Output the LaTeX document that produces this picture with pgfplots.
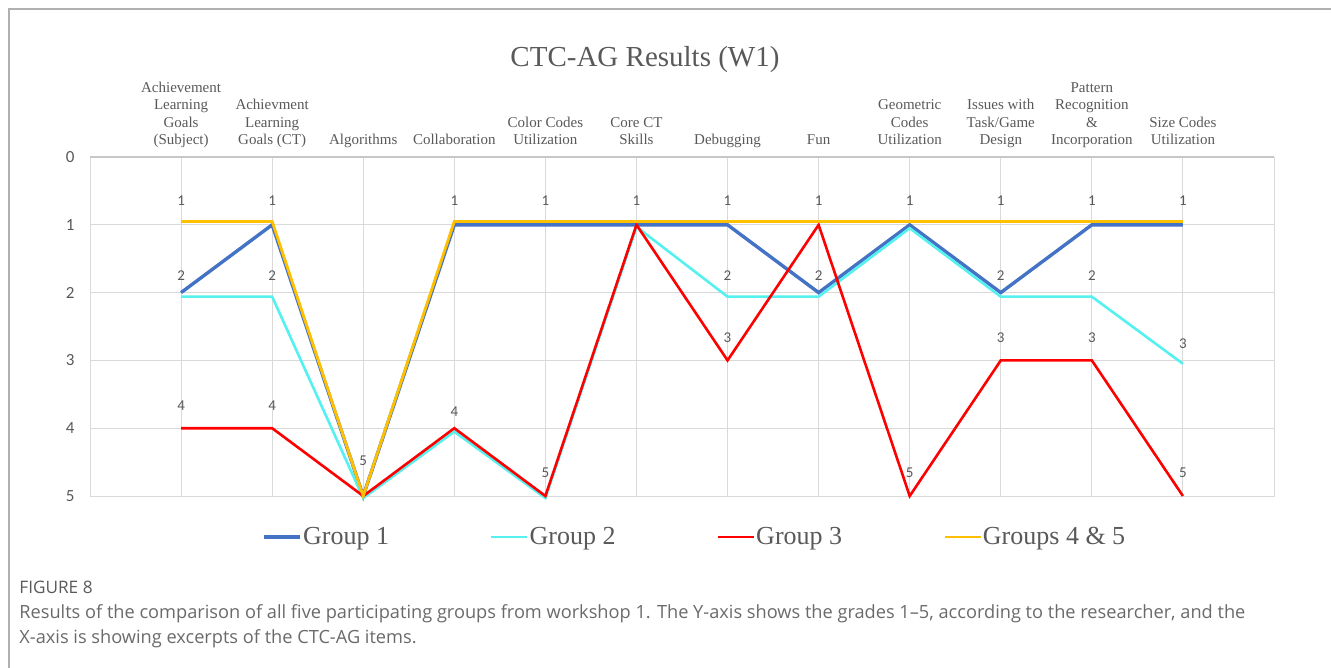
\documentclass[border=0pt]{standalone}
\usepackage{pgfplots}
\pgfplotsset{compat=1.18}
\usepackage{pgfplotstable}
\usepackage{fontspec}
\setmainfont{Liberation Serif}
\newfontfamily\calibri{Carlito}
\newfontfamily\capfont{Open Sans}
\definecolor{gA}{HTML}{4472C4}
\definecolor{gB}{HTML}{55F0F0}
\definecolor{gC}{HTML}{FF0000}
\definecolor{gD}{HTML}{FFC000}
\definecolor{txt}{HTML}{595959}
\definecolor{gridc}{HTML}{D9D9D9}
\definecolor{framec}{HTML}{B0B0B0}
\definecolor{capc}{HTML}{6A6A6A}

\pgfplotstableread{
x g1 g2 g3 g4
0 2 2.06 4 0.95
1 1 2.06 4 0.95
2 5 5.03 5 5
3 1 4.05 4 0.95
4 1 5.03 5 0.95
5 1 1.03 1 0.95
6 1 2.06 3 0.95
7 2 2.06 1 0.95
8 1 1.05 5 0.95
9 2 2.06 3 0.95
10 1 2.06 3 0.95
11 1 3.05 5 0.95
}\datatab

\pgfplotstableread{
x y lab
0 0.65 1
1 0.65 1
3 0.65 1
4 0.65 1
5 0.65 1
6 0.65 1
7 0.65 1
8 0.65 1
9 0.65 1
10 0.65 1
11 0.65 1
0 1.755 2
1 1.755 2
6 1.755 2
7 1.755 2
9 1.755 2
10 1.755 2
0 3.67 4
1 3.67 4
3 3.76 4
2 4.48 5
4 4.66 5
8 4.66 5
11 4.66 5
6 2.665 3
9 2.665 3
10 2.665 3
11 2.76 3
}\labtab

\begin{document}
\begin{tikzpicture}
\path[use as bounding box] (0,0) rectangle (665.5pt,-334pt);
\draw[framec, line width=1pt] (4.5pt,-334pt) -- (4.5pt,-4.5pt) -- (665.5pt,-4.5pt);
\node[font=\fontsize{14.5}{16}\selectfont, text=txt] at (322.5pt,-30pt) {CTC-AG Results (W1)};
\begin{axis}[
  scale only axis,
  width=592pt, height=169.5pt,
  at={(45pt,-248pt)}, anchor=south west,
  xmin=-1, xmax=12, ymin=0, ymax=5,
  y dir=reverse,
  xtick={0,...,11},
  ytick={0,...,5},
  xticklabel pos=right,
  xticklabels={
    {Achievement\\Learning\\Goals\\(Subject)},
    {Achievment\\Learning\\Goals (CT)},
    {Algorithms},
    {Collaboration},
    {Color Codes\\Utilization},
    {Core CT\\Skills},
    {Debugging},
    {Fun},
    {Geometric\\Codes\\Utilization},
    {Issues with\\Task/Game\\Design},
    {Pattern\\Recognition\\\&\\Incorporation},
    {Size Codes\\Utilization}},
  xticklabel style={anchor=south, align=center, inner sep=0pt, text depth=0pt,
    font=\fontsize{7.5}{8.7}\selectfont, text=txt, yshift=6pt},
  yticklabel style={anchor=east, inner sep=0pt, xshift=-7.5pt,
    font=\calibri\fontsize{8.5}{10}\selectfont, text=txt},
  /pgf/number format/assume math mode=true,
  major tick length=0pt,
  grid=major,
  grid style={gridc, line width=0.5pt},
  axis line style={gridc, line width=0.5pt},
  extra y ticks={0},
  extra y tick labels={},
  extra y tick style={grid style={draw=gridc!80!gray, line width=1.3pt}},
  legend columns=4,
  legend style={draw=none, fill=none, at={(0.1405,-0.121)}, anchor=west,
    font=\fontsize{13}{15}\selectfont, text=txt,
    nodes={inner xsep=0.5pt},
    /tikz/every even column/.append style={column sep=50pt}},
  legend cell align=left,
  legend image code/.code={\draw[#1] (0pt,0pt) -- (18pt,0pt);},
  clip=false,
]
\addplot[gA, line width=1.7pt] table[x=x, y=g1] {\datatab};
\addlegendentry{Group 1}
\addplot[gB, line width=1.3pt] table[x=x, y=g2] {\datatab};
\addlegendentry{Group 2}
\addplot[gC, line width=1.3pt] table[x=x, y=g3] {\datatab};
\addlegendentry{Group 3}
\addplot[gD, line width=1.4pt] table[x=x, y=g4] {\datatab};
\addlegendentry{Groups 4 \& 5}
\addplot[only marks, mark=none, forget plot, nodes near coords,
  point meta=explicit symbolic,
  nodes near coords style={anchor=center, inner sep=0pt,
    font=\calibri\fontsize{7.5}{9}\selectfont, text=txt}]
  table[x=x, y=y, meta=lab] {\labtab};
\end{axis}
\node[anchor=base west, inner sep=0pt, font=\capfont\fontsize{8.6}{10}\selectfont, text=capc!85!black] at (9.5pt,-296.5pt) {FIGURE 8};
\node[anchor=base west, font=\capfont\fontsize{9.1}{10}\selectfont, text=capc, inner sep=0pt] at (9.5pt,-309pt) {Results of the comparison of all five participating groups from workshop 1. The Y-axis shows the grades 1–5, according to the researcher, and the};
\node[anchor=base west, font=\capfont\fontsize{9.1}{10}\selectfont, text=capc, inner sep=0pt] at (9.5pt,-321.5pt) {X-axis is showing excerpts of the CTC-AG items.};
\end{tikzpicture}
\end{document}
